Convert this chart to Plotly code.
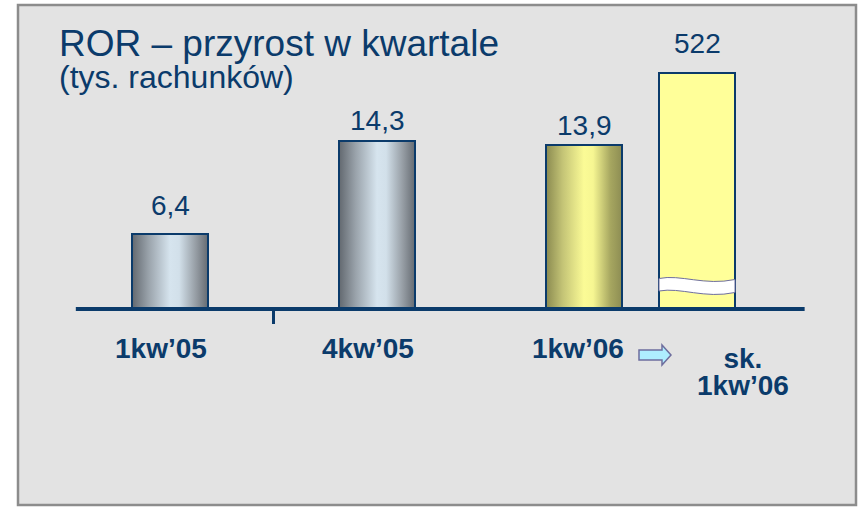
import base64
import plotly.graph_objects as go

# ---------------- data ----------------
title_text = "ROR – przyrost w kwartale"
subtitle_text = "(tys. rachunków)"
categories = ["1kw’05", "4kw’05", "1kw’06", "sk. 1kw’06"]
values = [6.4, 14.3, 13.9, 522]

# ---------------- styling / geometry ----------------
W, H = 859, 507
X0_PX, CAT_PX = 170, 207          # pixel of first category, pixels per category step
Y0_PX, UNIT_PX = 309, 11.78       # pixel of value 0, pixels per unit
BREAK_CAP = 20.0                  # axis break: taller bars are cut here
positions = [0, 1, 2, 2 + 113 / CAT_PX]
bar_width = 76 / CAT_PX
fills = ["steel", "steel", "gold", "flat"]
label_gap = [28, 20, 20, 30]       # px between bar top and value label centre
cat_shift = [-9, -9, -6, 46]       # px horizontal shift of category labels
NAVY = "#0b3b6b"
FONT = "Liberation Sans, Arial, sans-serif"


def px_x(px):
    return (px - X0_PX) / CAT_PX


def px_y(py):
    return (Y0_PX - py) / UNIT_PX


def grad_uri(stops):
    s = ('<svg xmlns="http://www.w3.org/2000/svg" width="100" height="100" '
         'preserveAspectRatio="none"><defs><linearGradient id="g" x1="0" y1="0" x2="1" y2="0">'
         + "".join(f'<stop offset="{o}" stop-color="{c}"/>' for o, c in stops)
         + '</linearGradient></defs><rect width="100" height="100" fill="url(#g)"/></svg>')
    return "data:image/svg+xml;base64," + base64.b64encode(s.encode()).decode()


gradients = {
    "steel": grad_uri([(0, "#62686f"), (0.22, "#9aa3ab"), (0.5, "#d6e4ee"),
                       (0.62, "#d2e0ea"), (0.85, "#939aa1"), (1, "#656b72")]),
    "gold": grad_uri([(0, "#8a8a50"), (0.22, "#c4c476"), (0.5, "#fbfb96"),
                      (0.62, "#f6f692"), (0.85, "#a6a660"), (1, "#8d8d53")]),
}

shown = [min(v, BREAK_CAP) for v in values]
labels_txt = [(f"{v:.1f}".replace(".", ",") if v != int(v) else str(int(v))) for v in values]

fig = go.Figure()
fig.add_trace(go.Bar(
    x=positions, y=shown, width=bar_width,
    marker=dict(color=["#ffff99" if f == "flat" else "rgba(0,0,0,0)" for f in fills],
                line=dict(color=NAVY, width=2)),
    hovertext=labels_txt, hoverinfo="text",
))

images = []
for p, h, f in zip(positions, shown, fills):
    if f in gradients:
        images.append(dict(source=gradients[f], xref="x", yref="y",
                           x=p - bar_width / 2, y=h, sizex=bar_width, sizey=h,
                           sizing="stretch", layer="below", xanchor="left", yanchor="top"))

shapes = [
    # frame
    dict(type="rect", xref="paper", yref="paper", x0=18 / W, x1=856 / W,
         y0=1 - 505 / H, y1=1 - 5 / H, fillcolor="#e3e3e3",
         line=dict(color="#8c8c8c", width=2.5), layer="below"),
    # baseline
    dict(type="line", xref="x", yref="y", x0=positions[0] - 0.455, x1=positions[-1] + 0.52,
         y0=0, y1=0, line=dict(color=NAVY, width=4)),
    # tick between first two categories
    dict(type="line", xref="x", yref="y", x0=(positions[0] + positions[1]) / 2,
         x1=(positions[0] + positions[1]) / 2, y0=0, y1=-15 / UNIT_PX,
         line=dict(color=NAVY, width=3)),
]

# axis-break band on the capped bar
for p, v in zip(positions, values):
    if v > BREAK_CAP:
        xl, xr = p - bar_width / 2, p + bar_width / 2
        w = xr - xl
        def X(f):
            return xl + f * w
        path = (f"M {X(0)},{px_y(278.5)} C {X(0.28)},{px_y(274)} {X(0.6)},{px_y(286)} {X(1)},{px_y(279.5)} "
                f"L {X(1)},{px_y(292.5)} C {X(0.6)},{px_y(299)} {X(0.28)},{px_y(287)} {X(0)},{px_y(291)} Z")
        shapes.append(dict(type="path", xref="x", yref="y", path=path,
                           fillcolor="white", line=dict(color="#6e6e9e", width=1)))

# arrow between the last two category labels
ax0, ax1, axh = px_x(639), px_x(671), px_x(662)
ay_mid = px_y(355)
arrow = (f"M {ax0},{px_y(350)} L {axh},{px_y(350)} L {axh},{px_y(345)} L {ax1},{ay_mid} "
         f"L {axh},{px_y(365)} L {axh},{px_y(360)} L {ax0},{px_y(360)} Z")
shapes.append(dict(type="path", xref="x", yref="y", path=arrow,
                   fillcolor="#aeeeff", line=dict(color="#6e6e9e", width=1.5)))

annotations = [
    dict(text=(f"<span style='font-size:37px'>{title_text}</span><br>"
               f"<span style='font-size:32px'>{subtitle_text}</span>"),
         xref="paper", yref="paper", x=57 / W, y=1 - 20.5 / H,
         xanchor="left", yanchor="top", align="left", showarrow=False,
         font=dict(family=FONT, size=24.6, color=NAVY)),
]

for p, h, t, g in zip(positions, shown, labels_txt, label_gap):
    annotations.append(dict(text=t, x=p, y=h, xref="x", yref="y", showarrow=False,
                            xanchor="center", yanchor="middle", yshift=g,
                            font=dict(family=FONT, size=28, color=NAVY)))

for p, c, s in zip(positions, categories, cat_shift):
    if c.startswith("sk. "):
        head, tail = c.split(" ", 1)
        txt = (f"<span style='font-size:28px'><b>{head}</b></span><br>"
               f"<span style='font-size:28px'><b>{tail}</b></span>")
        size, ysh = 20.8, -62.8
    else:
        txt, size, ysh = f"<b>{c}</b>", 28, -39.3
    annotations.append(dict(text=txt, x=p, y=0, xref="x", yref="y",
                            showarrow=False, xanchor="center", yanchor="middle",
                            align="center", xshift=s, yshift=ysh,
                            font=dict(family=FONT, size=size, color=NAVY)))

fig.update_layout(
    width=W, height=H, margin=dict(l=0, r=0, t=0, b=0),
    paper_bgcolor="white", plot_bgcolor="rgba(0,0,0,0)",
    xaxis=dict(visible=False, range=[px_x(0), px_x(W)], fixedrange=True),
    yaxis=dict(visible=False, range=[px_y(H), px_y(0)], fixedrange=True),
    showlegend=False, shapes=shapes, images=images, annotations=annotations,
    bargap=0,
)

fig.write_html("out.html", config={"displayModeBar": False},
               post_script="document.body.style.margin='0';")
